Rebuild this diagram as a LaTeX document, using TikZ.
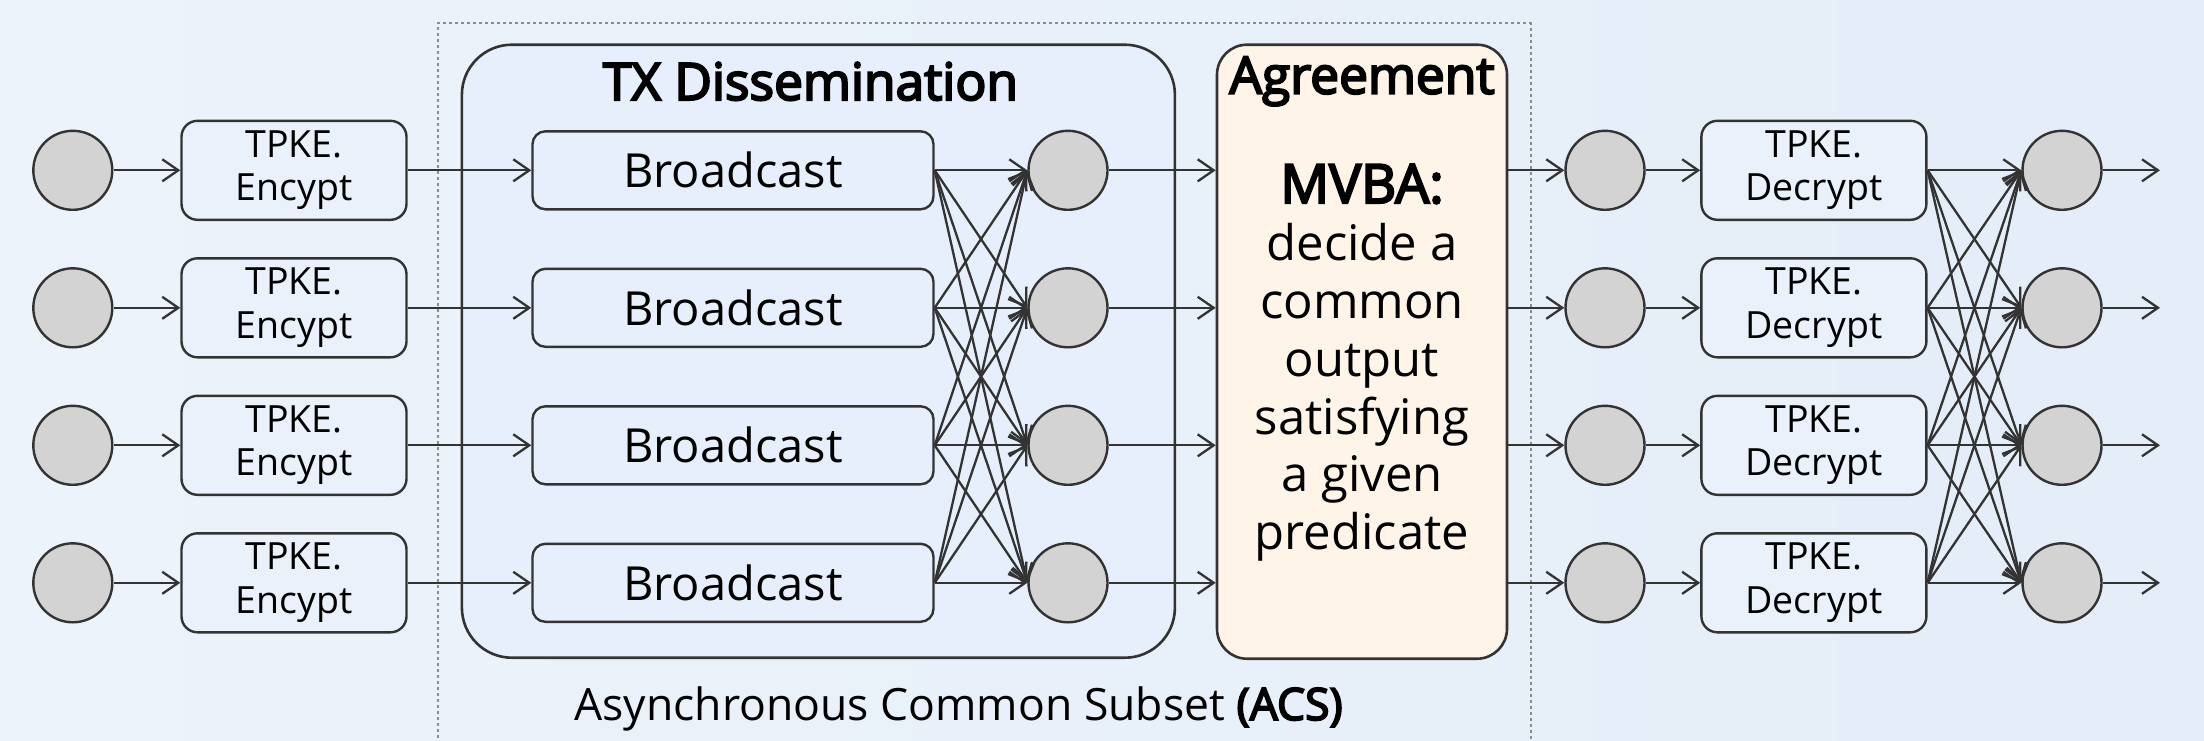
\documentclass[tikz,border=0pt]{standalone}
\usepackage{fontspec}
\setmainfont{Open Sans}[AutoFakeBold=4]
\usetikzlibrary{arrows.meta,calc}
\definecolor{ln}{HTML}{333333}
\definecolor{bgl}{HTML}{EDF3FA}
\definecolor{bgr}{HTML}{E4EDF8}
\definecolor{txfill}{HTML}{E6EFFB}
\definecolor{boxfill}{HTML}{EAF1FA}
\definecolor{circfill}{HTML}{D3D3D3}
\definecolor{agrfill}{HTML}{FEF5E8}
\definecolor{dotc}{HTML}{8C8C8C}
\begin{document}
\begin{tikzpicture}[x=1pt,y=-1pt,
  circ/.style={circle,draw=ln,line width=2.4pt,fill=circfill,minimum size=79pt,inner sep=0pt},
  tpke/.style={draw=ln,line width=2.4pt,rounded corners=16pt,fill=boxfill,minimum width=225pt,minimum height=99pt,inner sep=0pt,align=center,font=\fontsize{37.5}{43.4}\selectfont},
  bcast/.style={draw=ln,line width=2.4pt,rounded corners=13pt,fill=txfill,minimum width=401pt,minimum height=78pt,inner sep=0pt,font=\fontsize{47}{56}\selectfont},
  arr/.style={draw=ln,line width=2.3pt,-{Straight Barb[length=16pt,width=22pt,line width=2.3pt]}},
  bigbox/.style={draw=ln,line width=2.6pt,inner sep=0pt}
]
\useasboundingbox (0,0) rectangle (2204,740);
\clip (0,0) rectangle (2204,740);
\shade[left color=bgl,right color=bgr] (0,0) rectangle (2204,740);

% ACS dotted frame
\draw[dotc,line width=2.2pt,dash pattern=on 3pt off 3pt] (437.7,780) -- (437.7,23.3) -- (1530.7,23.3) -- (1530.7,780);

% TX Dissemination and Agreement boxes
\node[bigbox,rounded corners=50pt,fill=txfill,minimum width=713pt,minimum height=613pt] (tx) at (818.4,351.2) {};
\node[bigbox,rounded corners=30pt,fill=agrfill,minimum width=290pt,minimum height=614pt] (agr) at (1362,351.7) {};

\node[anchor=base,font=\fontsize{51.5}{58}\selectfont\bfseries] (txtitle) at (810.5,100) {TX Dissemination};
\node[anchor=base,font=\fontsize{51.5}{57}\selectfont\bfseries] (agrtitle) at (1362,93.6) {Agreement};
\node[anchor=north,inner sep=0pt,align=center,font=\fontsize{49}{57.8}\selectfont] (agrbody) at (1362,164)
  {\fontsize{54}{57.8}\selectfont\textbf{MVBA:}\\decide a\\common\\output\\satisfying\\a given\\predicate};

\node[anchor=base,font=\fontsize{44.5}{52}\selectfont] (acs) at (958.6,720) {Asynchronous Common Subset \textbf{(ACS)}};

% rows
\foreach \i/\y in {1/170.3,2/307.8,3/445.3,4/582.8} {
  \node[circ] (L\i) at (72.8,\y) {};
  \node[tpke] (E\i) at (294,\y) {TPKE.\\Encypt};
  \node[bcast] (B\i) at (733,\y) {Broadcast};
  \node[circ] (M\i) at (1068,\y) {};
  \node[circ] (R\i) at (1605,\y) {};
  \node[tpke] (D\i) at (1813.9,\y) {TPKE.\\Decrypt};
  \node[circ] (F\i) at (2062,\y) {};
  \coordinate (O\i) at (2160,\y);
}

\foreach \i in {1,...,4} {
  \draw[arr] (L\i.east) -- (E\i.west);
  \draw[arr] (E\i.east) -- (B\i.west);
  \draw[arr] (M\i.east) -- (M\i -| agr.west);
  \draw[arr] (R\i -| agr.east) -- (R\i.west);
  \draw[arr] (R\i.east) -- (D\i.west);
  \draw[arr] (F\i.east) -- (O\i);
  \foreach \j in {1,...,4} {
    \draw[arr] (B\i.east) -- (M\j.west);
    \draw[arr] (D\i.east) -- (F\j.west);
  }
}
\end{tikzpicture}
\end{document}
